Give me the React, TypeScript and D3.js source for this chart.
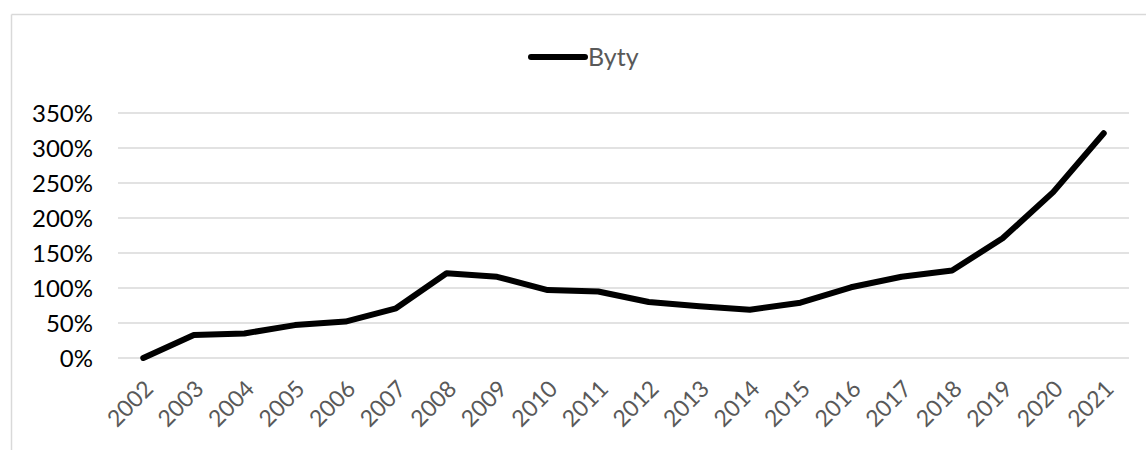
import React from "react";
import * as d3 from "d3";

const years = [
  "2002", "2003", "2004", "2005", "2006", "2007", "2008", "2009", "2010", "2011",
  "2012", "2013", "2014", "2015", "2016", "2017", "2018", "2019", "2020", "2021",
];
// Byty, growth vs 2002 in %
const byty = [0, 33, 35, 47, 52, 71, 121, 116, 97, 95, 80, 74, 69, 79, 101, 116, 125, 171, 237, 321];
const yTicks = [0, 50, 100, 150, 200, 250, 300, 350];
const seriesName = "Byty";

const font = "'Century Gothic', 'Lato', 'DejaVu Sans', sans-serif";

export default function App() {
  const width = 1146;
  const height = 450;
  const margins = { top: 113, right: 17, bottom: 92, left: 118 };

  const x = d3
    .scaleBand()
    .domain(years)
    .range([margins.left, width - margins.right]);

  const y = d3
    .scaleLinear()
    .domain([0, 350])
    .range([height - margins.bottom, margins.top]);

  const line = d3
    .line<number>()
    .x((_, i) => (x(years[i]) as number) + x.bandwidth() / 2)
    .y((d) => y(d));

  return (
    <svg
      width={width}
      height={height}
      style={{ position: "absolute", left: 0, top: 0 }}
    >
      <rect x={0} y={0} width={width} height={height} fill="#fff" />
      {/* chart frame, cut off at right and bottom */}
      <line x1={11.5} y1={14.5} x2={width} y2={14.5} stroke="#d9d9d9" strokeWidth={1.5} />
      <line x1={11.5} y1={14.5} x2={11.5} y2={height} stroke="#d9d9d9" strokeWidth={1.5} />

      {yTicks.map((t) => (
        <g key={t}>
          <line
            x1={margins.left}
            x2={width - margins.right}
            y1={y(t)}
            y2={y(t)}
            stroke="#d9d9d9"
            strokeWidth={1.5}
          />
          <text
            x={93}
            y={y(t)}
            dy="0.36em"
            textAnchor="end"
            fontFamily={font}
            fontSize={24}
            fill="#000"
          >
            {t}%
          </text>
        </g>
      ))}

      {years.map((yr) => {
        const cx = (x(yr) as number) + x.bandwidth() / 2;
        return (
          <text
            key={yr}
            transform={`translate(${cx},${y(0) + 21}) rotate(-45)`}
            textAnchor="end"
            dy="0.7em"
            fontFamily={font}
            fontSize={23}
            fill="#595959"
          >
            {yr}
          </text>
        );
      })}

      <path
        d={line(byty) ?? ""}
        fill="none"
        stroke="#000"
        strokeWidth={6}
        strokeLinejoin="round"
        strokeLinecap="round"
      />

      {/* legend */}
      <line x1={531} x2={585} y1={57} y2={57} stroke="#000" strokeWidth={6} strokeLinecap="round" />
      <text x={588} y={57} dy="0.36em" fontFamily={font} fontSize={25} fill="#595959">
        {seriesName}
      </text>
    </svg>
  );
}
